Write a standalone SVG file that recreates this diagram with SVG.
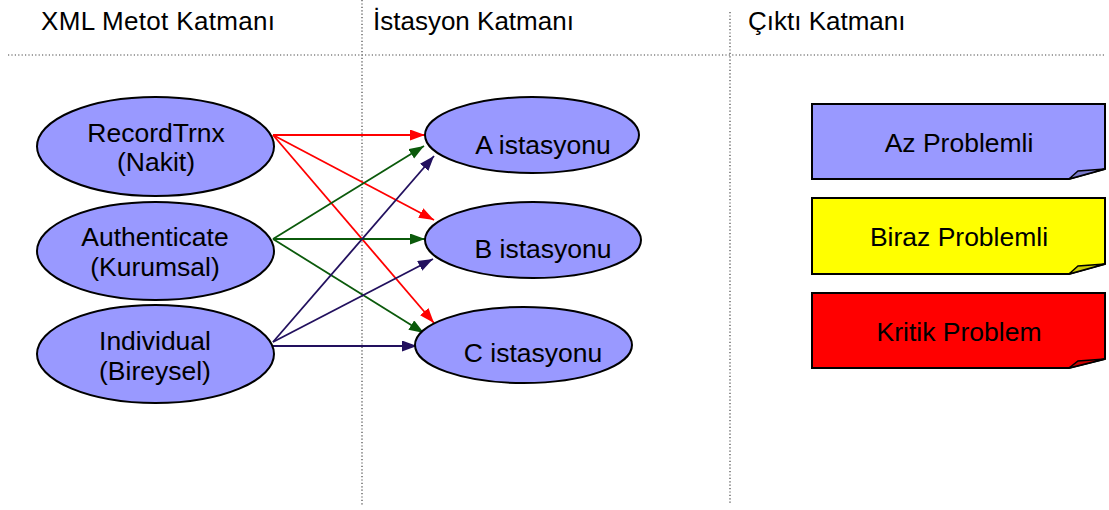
<svg xmlns="http://www.w3.org/2000/svg" width="1109" height="510" viewBox="0 0 1109 510">
<style>
text{font-family:"Liberation Sans",Arial,sans-serif;fill:#000}
.hdr{font-size:26px}
.lbl{font-size:26.5px;text-anchor:middle}
.sep{stroke:#444;stroke-width:1.2;stroke-dasharray:1.2 2.2;fill:none}
.node{fill:#9999FF;stroke:#000;stroke-width:2}
.note{stroke:#000;stroke-width:2}
.fold{stroke:#000;stroke-width:1.5}
.r{stroke:#FF0000;stroke-width:1.8;fill:none;marker-end:url(#ar)}
.g{stroke:#0B5A0B;stroke-width:1.8;fill:none;marker-end:url(#ag)}
.p{stroke:#22105E;stroke-width:1.8;fill:none;marker-end:url(#ap)}
</style>
<defs>
<marker id="ar" markerUnits="userSpaceOnUse" markerWidth="16" markerHeight="12" refX="15" refY="5.5" orient="auto"><path d="M0,0 L15,5.5 L0,11 Z" fill="#FF0000"/></marker>
<marker id="ag" markerUnits="userSpaceOnUse" markerWidth="16" markerHeight="12" refX="15" refY="5.5" orient="auto"><path d="M0,0 L15,5.5 L0,11 Z" fill="#0B5A0B"/></marker>
<marker id="ap" markerUnits="userSpaceOnUse" markerWidth="16" markerHeight="12" refX="15" refY="5.5" orient="auto"><path d="M0,0 L15,5.5 L0,11 Z" fill="#22105E"/></marker>
</defs>
<rect width="1109" height="510" fill="#fff"/>
<g id="separators">
<line class="sep" x1="8" y1="55" x2="1105" y2="55"/>
<line class="sep" x1="362" y1="0" x2="362" y2="505"/>
<line class="sep" x1="730" y1="12" x2="730" y2="505"/>
</g>
<g id="headers">
<text class="hdr" x="41" y="30" textLength="234">XML Metot Katmanı</text>
<text class="hdr" x="373" y="30">İstasyon Katmanı</text>
<text class="hdr" x="748" y="30">Çıktı Katmanı</text>
</g>
<g id="connectors">
<line class="r" x1="273" y1="135" x2="425" y2="135"/>
<line class="r" x1="273" y1="135" x2="434" y2="220"/>
<line class="r" x1="273" y1="135" x2="434" y2="323"/>
<line class="g" x1="273" y1="239" x2="424" y2="146"/>
<line class="g" x1="273" y1="239" x2="425" y2="239"/>
<line class="g" x1="273" y1="239" x2="424" y2="333"/>
<line class="p" x1="273" y1="342" x2="434" y2="156"/>
<line class="p" x1="273" y1="342" x2="433" y2="259"/>
<line class="p" x1="273" y1="346" x2="417" y2="346"/>
</g>
<g id="n-recordtrnx">
<ellipse class="node" cx="155.5" cy="146.5" rx="118.5" ry="49.5"/>
<text class="lbl" x="156" y="142">RecordTrnx</text>
<text class="lbl" x="156" y="171">(Nakit)</text>
</g>
<g id="n-authenticate">
<ellipse class="node" cx="155.5" cy="251" rx="118.5" ry="49"/>
<text class="lbl" x="155" y="246">Authenticate</text>
<text class="lbl" x="155" y="276">(Kurumsal)</text>
</g>
<g id="n-individual">
<ellipse class="node" cx="155.5" cy="354" rx="118.5" ry="49"/>
<text class="lbl" x="155" y="350">Individual</text>
<text class="lbl" x="155" y="380">(Bireysel)</text>
</g>
<g id="n-a">
<ellipse class="node" cx="532" cy="135" rx="107" ry="38"/>
<text class="lbl" x="543" y="154">A istasyonu</text>
</g>
<g id="n-b">
<ellipse class="node" cx="533" cy="240" rx="108" ry="38"/>
<text class="lbl" x="543" y="258">B istasyonu</text>
</g>
<g id="n-c">
<ellipse class="node" cx="523.5" cy="345" rx="108.5" ry="38"/>
<text class="lbl" x="533" y="362">C istasyonu</text>
</g>
<g id="o-az">
<path class="note" d="M812,104 H1105 V169 L1069,179 H812 Z" fill="#9999FF"/>
<path class="fold" d="M1069,179 L1078,171 L1105,169 Z" fill="#7A7ACC"/>
<text class="lbl" x="959" y="152">Az Problemli</text>
</g>
<g id="o-biraz">
<path class="note" d="M812,198 H1105 V264 L1069,274 H812 Z" fill="#FFFF00"/>
<path class="fold" d="M1069,274 L1078,266 L1105,264 Z" fill="#CCCC00"/>
<text class="lbl" x="959" y="246">Biraz Problemli</text>
</g>
<g id="o-kritik">
<path class="note" d="M812,293 H1105 V359 L1069,368 H812 Z" fill="#FF0000"/>
<path class="fold" d="M1069,368 L1078,361 L1105,359 Z" fill="#CC0000"/>
<text class="lbl" x="959" y="341">Kritik Problem</text>
</g>
</svg>
